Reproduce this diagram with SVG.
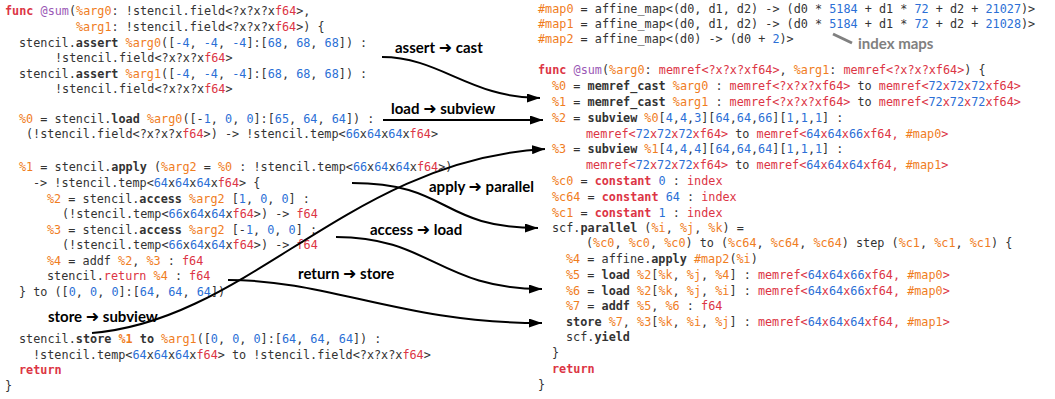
<svg xmlns="http://www.w3.org/2000/svg" width="1055" height="399" viewBox="0 0 1055 399">
<defs>
<style>
.c{font-family:"DejaVu Sans Mono","Liberation Mono",monospace;font-size:11.8px;fill:#333}
.k{font-weight:bold}
.r{fill:#dc3545}
.o{fill:#f07d1e}
.b{fill:#2b6fd6}
.p{fill:#9b59b6}
.lbl{font-family:Lato,"Open Sans",sans-serif;font-weight:bold;font-size:15px;fill:#000}
.ar{font-family:"DejaVu Sans",sans-serif;font-weight:bold;font-size:16px}
.conn{fill:none;stroke:#000;stroke-width:2}
</style>
<marker id="ah" markerWidth="13" markerHeight="9" refX="13" refY="4.5" orient="auto" markerUnits="userSpaceOnUse">
<path d="M0,0 L13,4.5 L0,9 z" fill="#000"/>
</marker>
</defs>
<rect width="1055" height="399" fill="#fff"/>

<g id="stencil-code">
<text class="c" x="5" y="15"><tspan class="r k">func</tspan> <tspan class="p">@sum</tspan>(<tspan class="o">%arg0</tspan>: !stencil.field&lt;?x?x?x<tspan class="r">f64</tspan>&gt;,</text>
<text class="c" x="76" y="31"><tspan class="o">%arg1</tspan>: !stencil.field&lt;?x?x?x<tspan class="r">f64</tspan>&gt;) {</text>
<text class="c" x="19" y="47">stencil.<tspan class="k">assert</tspan> <tspan class="o">%arg0</tspan>([<tspan class="b">-4</tspan>, <tspan class="b">-4</tspan>, <tspan class="b">-4</tspan>]:[<tspan class="b">68</tspan>, <tspan class="b">68</tspan>, <tspan class="b">68</tspan>]) :</text>
<text class="c" x="55" y="62">!stencil.field&lt;?x?x?x<tspan class="r">f64</tspan>&gt;</text>
<text class="c" x="19" y="78">stencil.<tspan class="k">assert</tspan> <tspan class="o">%arg1</tspan>([<tspan class="b">-4</tspan>, <tspan class="b">-4</tspan>, <tspan class="b">-4</tspan>]:[<tspan class="b">68</tspan>, <tspan class="b">68</tspan>, <tspan class="b">68</tspan>]) :</text>
<text class="c" x="55" y="93">!stencil.field&lt;?x?x?x<tspan class="r">f64</tspan>&gt;</text>
<text class="c" x="19" y="123"><tspan class="o">%0</tspan> = stencil.<tspan class="k">load</tspan> <tspan class="o">%arg0</tspan>([-<tspan class="b">1</tspan>, <tspan class="b">0</tspan>, <tspan class="b">0</tspan>]:[<tspan class="b">65</tspan>, <tspan class="b">64</tspan>, <tspan class="b">64</tspan>]) :</text>
<text class="c" x="26" y="138">(!stencil.field&lt;?x?x?x<tspan class="r">f64</tspan>&gt;) -&gt; !stencil.temp&lt;<tspan class="b">66</tspan>x<tspan class="b">64</tspan>x<tspan class="b">64</tspan>x<tspan class="r">f64</tspan>&gt;</text>
<text class="c" x="19" y="171"><tspan class="o">%1</tspan> = stencil.<tspan class="k">apply</tspan> (<tspan class="o">%arg2</tspan> = <tspan class="o">%0</tspan> : !stencil.temp&lt;<tspan class="b">66</tspan>x<tspan class="b">64</tspan>x<tspan class="b">64</tspan>x<tspan class="r">f64</tspan>&gt;)</text>
<text class="c" x="33" y="187">-&gt; !stencil.temp&lt;<tspan class="b">64</tspan>x<tspan class="b">64</tspan>x<tspan class="b">64</tspan>x<tspan class="r">f64</tspan>&gt; {</text>
<text class="c" x="47" y="203"><tspan class="o">%2</tspan> = stencil.<tspan class="k">access</tspan> <tspan class="o">%arg2</tspan> [<tspan class="b">1</tspan>, <tspan class="b">0</tspan>, <tspan class="b">0</tspan>] :</text>
<text class="c" x="62" y="218">(!stencil.temp&lt;<tspan class="b">66</tspan>x<tspan class="b">64</tspan>x<tspan class="b">64</tspan>x<tspan class="r">f64</tspan>&gt;) -&gt; <tspan class="r">f64</tspan></text>
<text class="c" x="47" y="234"><tspan class="o">%3</tspan> = stencil.<tspan class="k">access</tspan> <tspan class="o">%arg2</tspan> [-<tspan class="b">1</tspan>, <tspan class="b">0</tspan>, <tspan class="b">0</tspan>] :</text>
<text class="c" x="62" y="249">(!stencil.temp&lt;<tspan class="b">66</tspan>x<tspan class="b">64</tspan>x<tspan class="b">64</tspan>x<tspan class="r">f64</tspan>&gt;) -&gt; <tspan class="r">f64</tspan></text>
<text class="c" x="47" y="265"><tspan class="o">%4</tspan> = addf <tspan class="o">%2</tspan>, <tspan class="o">%3</tspan> : <tspan class="r">f64</tspan></text>
<text class="c" x="47" y="280">stencil.<tspan class="r">return</tspan> <tspan class="o">%4</tspan> : <tspan class="r">f64</tspan></text>
<text class="c" x="19" y="296">} to ([<tspan class="b">0</tspan>, <tspan class="b">0</tspan>, <tspan class="b">0</tspan>]:[<tspan class="b">64</tspan>, <tspan class="b">64</tspan>, <tspan class="b">64</tspan>])</text>
<text class="c" x="19" y="343">stencil.<tspan class="k">store</tspan> <tspan class="o k">%1</tspan> <tspan class="k">to</tspan> <tspan class="o">%arg1</tspan>([<tspan class="b">0</tspan>, <tspan class="b">0</tspan>, <tspan class="b">0</tspan>]:[<tspan class="b">64</tspan>, <tspan class="b">64</tspan>, <tspan class="b">64</tspan>]) :</text>
<text class="c" x="33" y="359">!stencil.temp&lt;<tspan class="b">64</tspan>x<tspan class="b">64</tspan>x<tspan class="b">64</tspan>x<tspan class="r">f64</tspan>&gt; to !stencil.field&lt;?x?x?x<tspan class="r">f64</tspan>&gt;</text>
<text class="c r k" x="19" y="374">return</text>
<text class="c" x="5" y="390">}</text>
</g>

<g id="maps">
<text class="c" x="538" y="13"><tspan class="o">#map0</tspan> = affine_map&lt;(d0, d1, d2) -&gt; (d0 * <tspan class="b">5184</tspan> + d1 * <tspan class="b">72</tspan> + d2 + <tspan class="b">21027</tspan>)&gt;</text>
<text class="c" x="538" y="28"><tspan class="o">#map1</tspan> = affine_map&lt;(d0, d1, d2) -&gt; (d0 * <tspan class="b">5184</tspan> + d1 * <tspan class="b">72</tspan> + d2 + <tspan class="b">21028</tspan>)&gt;</text>
<text class="c" x="538" y="43"><tspan class="o">#map2</tspan> = affine_map&lt;(d0) -&gt; (d0 + <tspan class="b">2</tspan>)&gt;</text>
</g>

<g id="index-maps-note">
<line x1="833" y1="34" x2="852" y2="43" stroke="#808080" stroke-width="3"/>
<text class="lbl" x="858" y="49" style="fill:#808080">index maps</text>
</g>

<g id="loops-code">
<text class="c" x="538" y="74"><tspan class="r k">func</tspan> <tspan class="p">@sum</tspan>(<tspan class="o">%arg0</tspan>: <tspan class="r">memref&lt;?x?x?xf64&gt;</tspan>, <tspan class="o">%arg1</tspan>: <tspan class="r">memref&lt;?x?x?xf64&gt;</tspan>) {</text>
<text class="c" x="552" y="90"><tspan class="o">%0</tspan> = <tspan class="k">memref_cast</tspan> <tspan class="o">%arg0</tspan> : <tspan class="r">memref&lt;?x?x?xf64&gt;</tspan> to <tspan class="r">memref&lt;<tspan class="b">72</tspan>x<tspan class="b">72</tspan>x<tspan class="b">72</tspan>xf64&gt;</tspan></text>
<text class="c" x="552" y="106"><tspan class="o">%1</tspan> = <tspan class="k">memref_cast</tspan> <tspan class="o">%arg1</tspan> : <tspan class="r">memref&lt;?x?x?xf64&gt;</tspan> to <tspan class="r">memref&lt;<tspan class="b">72</tspan>x<tspan class="b">72</tspan>x<tspan class="b">72</tspan>xf64&gt;</tspan></text>
<text class="c" x="552" y="122"><tspan class="o">%2</tspan> = <tspan class="k">subview</tspan> <tspan class="o">%0</tspan>[<tspan class="b">4</tspan>,<tspan class="b">4</tspan>,<tspan class="b">3</tspan>][<tspan class="b">64</tspan>,<tspan class="b">64</tspan>,<tspan class="b">66</tspan>][<tspan class="b">1</tspan>,<tspan class="b">1</tspan>,<tspan class="b">1</tspan>] :</text>
<text class="c" x="586" y="138"><tspan class="r">memref&lt;<tspan class="b">72</tspan>x<tspan class="b">72</tspan>x<tspan class="b">72</tspan>xf64&gt;</tspan> to <tspan class="r">memref&lt;<tspan class="b">64</tspan>x<tspan class="b">64</tspan>x<tspan class="b">66</tspan>xf64, <tspan class="o">#map0</tspan>&gt;</tspan></text>
<text class="c" x="552" y="153"><tspan class="o">%3</tspan> = <tspan class="k">subview</tspan> <tspan class="o">%1</tspan>[<tspan class="b">4</tspan>,<tspan class="b">4</tspan>,<tspan class="b">4</tspan>][<tspan class="b">64</tspan>,<tspan class="b">64</tspan>,<tspan class="b">64</tspan>][<tspan class="b">1</tspan>,<tspan class="b">1</tspan>,<tspan class="b">1</tspan>] :</text>
<text class="c" x="586" y="169"><tspan class="r">memref&lt;<tspan class="b">72</tspan>x<tspan class="b">72</tspan>x<tspan class="b">72</tspan>xf64&gt;</tspan> to <tspan class="r">memref&lt;<tspan class="b">64</tspan>x<tspan class="b">64</tspan>x<tspan class="b">64</tspan>xf64, <tspan class="o">#map1</tspan>&gt;</tspan></text>
<text class="c" x="552" y="185"><tspan class="o">%c0</tspan> = <tspan class="r k">constant</tspan> <tspan class="b">0</tspan> : <tspan class="r">index</tspan></text>
<text class="c" x="552" y="201"><tspan class="o">%c64</tspan> = <tspan class="r k">constant</tspan> <tspan class="b">64</tspan> : <tspan class="r">index</tspan></text>
<text class="c" x="552" y="217"><tspan class="o">%c1</tspan> = <tspan class="r k">constant</tspan> <tspan class="b">1</tspan> : <tspan class="r">index</tspan></text>
<text class="c" x="552" y="232">scf.<tspan class="k">parallel</tspan> (<tspan class="o">%i</tspan>, <tspan class="o">%j</tspan>, <tspan class="o">%k</tspan>) =</text>
<text class="c" x="586" y="247">(<tspan class="o">%c0</tspan>, <tspan class="o">%c0</tspan>, <tspan class="o">%c0</tspan>) to (<tspan class="o">%c64</tspan>, <tspan class="o">%c64</tspan>, <tspan class="o">%c64</tspan>) step (<tspan class="o">%c1</tspan>, <tspan class="o">%c1</tspan>, <tspan class="o">%c1</tspan>) {</text>
<text class="c" x="566" y="263"><tspan class="o">%4</tspan> = affine.<tspan class="k">apply</tspan> <tspan class="o">#map2</tspan>(<tspan class="o">%i</tspan>)</text>
<text class="c" x="566" y="279"><tspan class="o">%5</tspan> = <tspan class="k">load</tspan> <tspan class="o">%2</tspan>[<tspan class="o">%k</tspan>, <tspan class="o">%j</tspan>, <tspan class="o">%4</tspan>] : <tspan class="r">memref&lt;<tspan class="b">64</tspan>x<tspan class="b">64</tspan>x<tspan class="b">66</tspan>xf64, <tspan class="o">#map0</tspan>&gt;</tspan></text>
<text class="c" x="566" y="295"><tspan class="o">%6</tspan> = <tspan class="k">load</tspan> <tspan class="o">%2</tspan>[<tspan class="o">%k</tspan>, <tspan class="o">%j</tspan>, <tspan class="o">%i</tspan>] : <tspan class="r">memref&lt;<tspan class="b">64</tspan>x<tspan class="b">64</tspan>x<tspan class="b">66</tspan>xf64, <tspan class="o">#map0</tspan>&gt;</tspan></text>
<text class="c" x="566" y="310"><tspan class="o">%7</tspan> = <tspan class="k">addf</tspan> <tspan class="o">%5</tspan>, <tspan class="o">%6</tspan> : <tspan class="r">f64</tspan></text>
<text class="c" x="566" y="326"><tspan class="k">store</tspan> <tspan class="o">%7</tspan>, <tspan class="o">%3</tspan>[<tspan class="o">%k</tspan>, <tspan class="o">%i</tspan>, <tspan class="o">%j</tspan>] : <tspan class="r">memref&lt;<tspan class="b">64</tspan>x<tspan class="b">64</tspan>x<tspan class="b">64</tspan>xf64, <tspan class="o">#map1</tspan>&gt;</tspan></text>
<text class="c" x="566" y="341">scf.<tspan class="k">yield</tspan></text>
<text class="c" x="552" y="357">}</text>
<text class="c r k" x="552" y="373">return</text>
<text class="c" x="538" y="389">}</text>
</g>

<g id="connectors">
<path class="conn" d="M382,57 C440,57 470,98 540,98" marker-end="url(#ah)"/>
<path class="conn" d="M383,120 L543,120" marker-end="url(#ah)"/>
<path class="conn" d="M92,333 C250,320 350,160 545,149" marker-end="url(#ah)"/>
<path class="conn" d="M352,183 C450,183 440,228 538,228" marker-end="url(#ah)"/>
<path class="conn" d="M336,237 C430,237 440,289 542,289" marker-end="url(#ah)"/>
<path class="conn" d="M228,280 C330,280 400,323 542,323" marker-end="url(#ah)"/>
</g>

<g id="labels">
<text class="lbl" x="395" y="53">assert <tspan class="ar">➜</tspan> cast</text>
<text class="lbl" x="391" y="114">load <tspan class="ar">➜</tspan> subview</text>
<text class="lbl" x="429" y="192">apply <tspan class="ar">➜</tspan> parallel</text>
<text class="lbl" x="370" y="235">access <tspan class="ar">➜</tspan> load</text>
<text class="lbl" x="298" y="279">return <tspan class="ar">➜</tspan> store</text>
<text class="lbl" x="48" y="322">store <tspan class="ar">➜</tspan> subview</text>
</g>
</svg>
